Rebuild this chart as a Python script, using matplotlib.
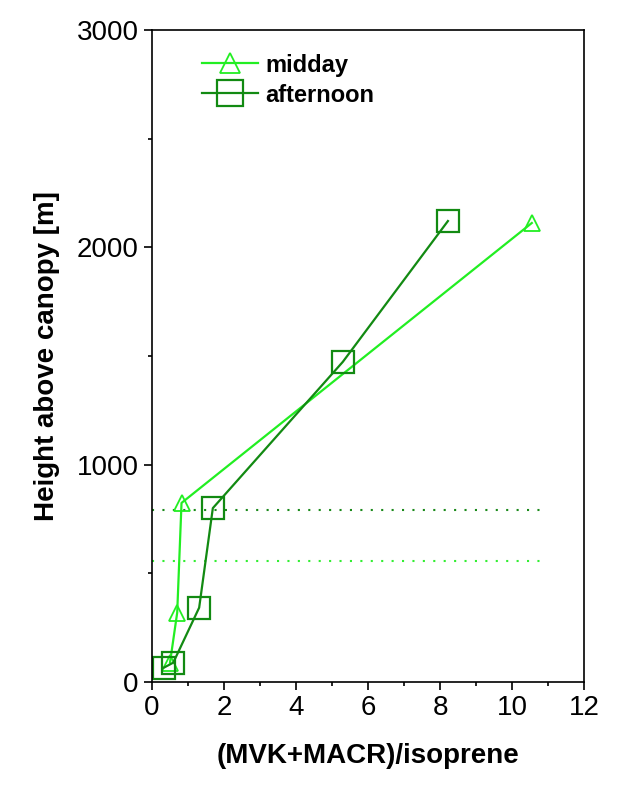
import matplotlib.pyplot as plt
from matplotlib.ticker import MultipleLocator

plt.rcParams['font.family'] = ['Liberation Sans', 'DejaVu Sans']

midday_x = [0.50, 0.70, 0.82, 10.55]
midday_y = [89, 319, 824, 2112]
after_x = [0.33, 0.59, 1.31, 1.69, 5.30, 8.22]
after_y = [66, 89, 342, 800, 1473, 2121]
dotted_levels = [792, 557]
dotted_colors = ['#1a8a1a', '#33ee33']
light = '#22ee22'
dark = '#128a12'

fig = plt.figure(figsize=(6.29, 7.85), dpi=100)
ax = fig.add_axes([152/629, 1-682/785, 432/629, 652/785])

for lvl, c in zip(dotted_levels, dotted_colors):
    ax.plot([0, 10.8], [lvl, lvl], linestyle=(0, (1, 4)), color=c, lw=1.5)

ax.plot(midday_x, midday_y, '-^', color=light, mfc='none', ms=12, lw=1.6, mew=1.3, label='midday')
ax.plot(after_x, after_y, '-s', color=dark, mfc='none', ms=16, lw=1.6, mew=1.6, label='afternoon')

ax.set_xlim(0, 12)
ax.set_ylim(0, 3000)
ax.xaxis.set_major_locator(MultipleLocator(2))
ax.xaxis.set_minor_locator(MultipleLocator(1))
ax.yaxis.set_major_locator(MultipleLocator(1000))
ax.yaxis.set_minor_locator(MultipleLocator(500))
ax.tick_params(which='major', length=6, width=1.2, labelsize=20)
ax.tick_params(which='minor', length=3, width=1.2)
for s in ax.spines.values():
    s.set_linewidth(1.2)
ax.set_xlabel('(MVK+MACR)/isoprene', fontsize=20, fontweight='bold', labelpad=16)
ax.set_ylabel('Height above canopy [m]', fontsize=20, fontweight='bold', labelpad=12)
leg = ax.legend(loc='upper left', frameon=False, prop={'size': 17, 'weight': 'bold'},
                handlelength=2.4, handletextpad=0.3, labelspacing=0.3, markerscale=1.2,
                borderaxespad=0.6, bbox_to_anchor=(0.06, 1.0))
fig.savefig('out.png')
